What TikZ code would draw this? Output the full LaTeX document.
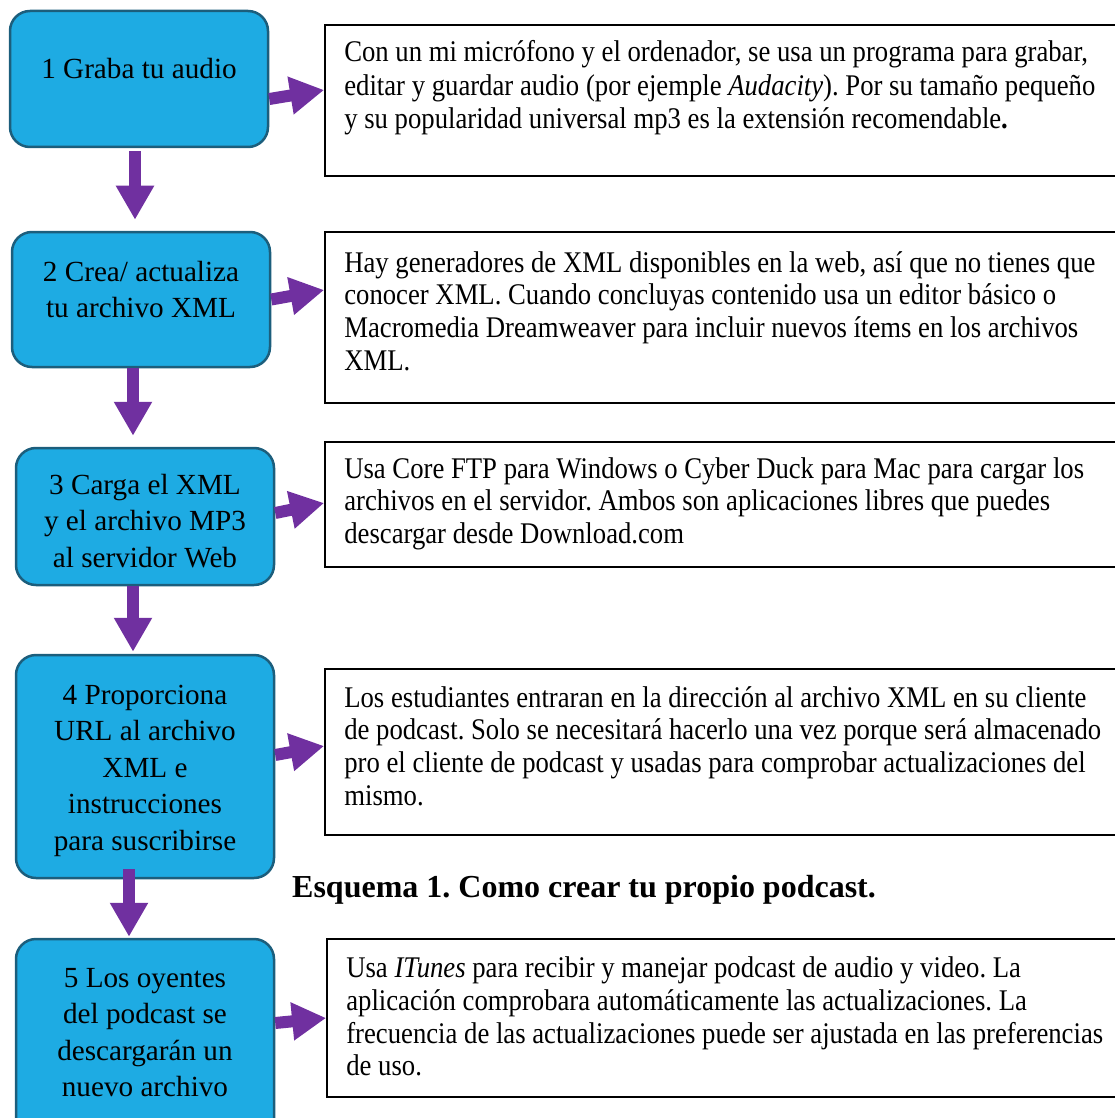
\documentclass[tikz,border=0pt]{standalone}
\usepackage{fontspec}
\setmainfont{Liberation Serif}
\newfontfamily\notefont[FakeStretch=0.89]{Liberation Serif}
\usetikzlibrary{arrows.meta}
\definecolor{stepblue}{RGB}{30,171,227}
\definecolor{stepline}{RGB}{28,94,124}
\definecolor{arrowpurple}{RGB}{112,48,160}
\frenchspacing

\begin{document}
\begin{tikzpicture}[x=1pt,y=-1pt,
    stepbox/.style={rectangle,rounded corners=20pt,draw=stepline,line width=2.5pt,fill=stepblue,minimum width=258pt,inner sep=0pt},
    steptext/.style={align=center,font=\fontsize{29.2}{36.5}\selectfont,inner sep=0pt},
    notebox/.style={rectangle,draw=black,line width=1.8pt,minimum width=810pt,inner sep=0pt},
    notetext/.style={anchor=north west,align=left,font=\notefont\fontsize{30}{32.7}\selectfont,inner sep=0pt},
    flowarrow/.style={draw=arrowpurple,line width=12pt,-{Triangle[width=36pt,length=34pt]}}]
        \useasboundingbox (0,0) rectangle (1115,1118);

        % steps
        \node[stepbox,minimum height=136pt] (b1) at (139,79) {};
        \node[stepbox,minimum height=135pt] (b2) at (141,299.5) {};
        \node[stepbox,minimum height=137pt] (b3) at (145,516.5) {};
        \node[stepbox,minimum height=223pt] (b4) at (145,766.5) {};
        \node[stepbox,minimum height=200pt] (b5) at (145,1039) {};
        \node[steptext] (s1) at ([yshift=10pt]b1.center) {1 Graba tu audio};
        \node[steptext] (s2) at ([yshift=10pt]b2.center) {2 Crea/ actualiza\\tu archivo XML};
        \node[steptext] (s3) at ([yshift=-4.5pt]b3.center) {3 Carga el XML\\y el archivo MP3\\al servidor Web};
        \node[steptext] (s4) at ([yshift=-4pt]b4.center) {4 Proporciona\\URL al archivo\\XML e\\instrucciones\\para suscribirse};
        \node[steptext] (s5) at ([yshift=6.5pt]b5.center) {5 Los oyentes\\del podcast se\\descargarán un\\nuevo archivo};

        % notes
        \node[notebox,minimum height=151pt] (t1) at (730,100.5) {};
        \node[notebox,minimum height=171pt] (t2) at (730,317.5) {};
        \node[notebox,minimum height=125pt] (t3) at (730,504.5) {};
        \node[notebox,minimum height=166pt] (t4) at (730,752) {};
        \node[notebox,minimum height=158pt] (t5) at (732,1018) {};
        \node[notetext,font=\notefont\fontsize{30}{33.7}\selectfont] (n1) at ([xshift=20pt,yshift=-16pt]t1.north west) {Con un mi micrófono y el ordenador, se usa un programa para grabar,\\editar y guardar audio (por ejemple \textit{Audacity}). Por su tamaño pequeño\\y su popularidad universal mp3 es la extensión recomendable\textbf{.}};
        \node[notetext] (n2) at ([xshift=20pt,yshift=-20pt]t2.north west) {Hay generadores de XML disponibles en la web, así que no tienes que\\conocer XML. Cuando concluyas contenido usa un editor básico o\\Macromedia Dreamweaver para incluir nuevos ítems en los archivos\\XML.};
        \node[notetext] (n3) at ([xshift=20pt,yshift=-16pt]t3.north west) {Usa Core FTP para Windows o Cyber Duck para Mac para cargar los\\archivos en el servidor. Ambos son aplicaciones libres que puedes\\descargar desde Download.com};
        \node[notetext] (n4) at ([xshift=20pt,yshift=-18pt]t4.north west) {Los estudiantes entraran en la dirección al archivo XML en su cliente\\de podcast. Solo se necesitará hacerlo una vez porque será almacenado\\pro el cliente de podcast y usadas para comprobar actualizaciones del\\mismo.};
        \node[notetext] (n5) at ([xshift=20pt,yshift=-18.5pt]t5.north west) {Usa \textit{ITunes} para recibir y manejar podcast de audio y video. La\\aplicación comprobara automáticamente las actualizaciones. La\\frecuencia de las actualizaciones puede ser ajustada en las preferencias\\de uso.};

        \node[font=\bfseries\fontsize{32}{38}\selectfont,anchor=base west,inner sep=0pt] (caption) at (292,897) {Esquema 1. Como crear tu propio podcast.};

        % arrows down
        \draw[flowarrow,shorten <=3pt,shorten >=11pt] ([xshift=-4pt]b1.south) -- ([xshift=-4pt]b1.south |- b2.north);
        \draw[flowarrow,shorten >=11pt] ([xshift=-8pt]b2.south) -- ([xshift=-8pt]b2.south |- b3.north);
        \draw[flowarrow,shorten >=2pt] ([xshift=-12pt]b3.south) -- ([xshift=-12pt]b3.south |- b4.north);
        \draw[flowarrow,shorten <=-10pt,shorten >=1pt] ([xshift=-16pt]b4.south) -- ([xshift=-16pt]b4.south |- b5.north);

        % arrows right
        \draw[flowarrow] ([yshift=-20pt]b1.east) -- ([yshift=10.5pt]t1.west);
        \draw[flowarrow] (b2.east) -- ([yshift=27.5pt]t2.west);
        \draw[flowarrow] ([yshift=3.5pt]b3.east) -- ([yshift=1.5pt]t3.west);
        \draw[flowarrow] ([yshift=11.5pt]b4.east) -- ([yshift=6pt]t4.west);
        \draw[flowarrow] ([yshift=16pt]b5.east) -- (t5.west);
\end{tikzpicture}
\end{document}
